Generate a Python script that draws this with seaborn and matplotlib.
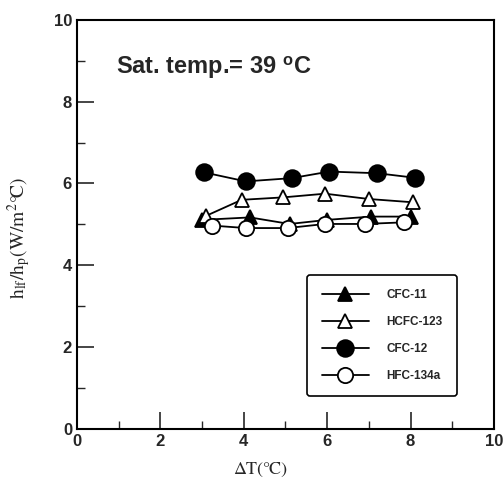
import pandas as pd
import matplotlib.pyplot as plt
import seaborn as sns
from matplotlib.ticker import MultipleLocator

# data
cfc11_x = [3.0, 4.15, 5.1, 6.0, 7.05, 8.0]
cfc11_y = [5.11, 5.17, 5.01, 5.11, 5.19, 5.19]
hcfc123_x = [3.1, 3.95, 4.95, 5.95, 7.0, 8.05]
hcfc123_y = [5.21, 5.6, 5.66, 5.75, 5.62, 5.54]
cfc12_x = [3.05, 4.05, 5.15, 6.05, 7.2, 8.1]
cfc12_y = [6.27, 6.05, 6.13, 6.29, 6.25, 6.14]
hfc134a_x = [3.25, 4.05, 5.05, 5.95, 6.9, 7.85]
hfc134a_y = [4.97, 4.91, 4.91, 5.01, 5.01, 5.05]

sns.set_style("ticks")
plt.rcParams['font.family'] = ['Liberation Sans', 'DejaVu Sans']
plt.rcParams['mathtext.fontset'] = 'stix'

fig = plt.figure(figsize=(5.03, 4.82), dpi=100)
ax = fig.add_axes([0.153, 0.110, 0.829, 0.849])

series = [
    ('CFC-11', cfc11_x, cfc11_y, '^', 'black', 10),
    ('HCFC-123', hcfc123_x, hcfc123_y, '^', 'white', 10),
    ('CFC-12', cfc12_x, cfc12_y, 'o', 'black', 12),
    ('HFC-134a', hfc134a_x, hfc134a_y, 'o', 'white', 11),
]
for name, xs, ys, mk, fc, ms in series:
    d = pd.DataFrame({'x': xs, 'y': ys})
    sns.lineplot(data=d, x='x', y='y', ax=ax, color='black', lw=1.3,
                 marker=mk, markersize=ms, markerfacecolor=fc,
                 markeredgecolor='black', markeredgewidth=1.3, label=name)

ax.set_xlim(0, 10)
ax.set_ylim(0, 10)
ax.xaxis.set_major_locator(MultipleLocator(2))
ax.xaxis.set_minor_locator(MultipleLocator(1))
ax.yaxis.set_major_locator(MultipleLocator(2))
ax.yaxis.set_minor_locator(MultipleLocator(1))
ax.tick_params(which='major', direction='in', length=12, width=1.2, labelsize=12)
ax.tick_params(which='minor', direction='in', length=6, width=1.0)
for lab in ax.get_xticklabels() + ax.get_yticklabels():
    lab.set_fontweight('bold')
for s in ax.spines.values():
    s.set_linewidth(1.5)
    s.set_color('black')

# degree sign + C stands in for the celsius glyph (not in STIX)
ax.set_xlabel('$\\mathit{\\Delta}\\mathrm{T(\u00b0\\!C)}$', fontsize=13)
ax.xaxis.set_label_coords(0.44, -0.078)
ax.set_ylabel('$\\mathrm{h_{lf}/h_p(W/m^2\u00b0\\!C)}$', fontsize=14)
ax.yaxis.set_label_coords(-0.105, 0.467)

ax.text(0.94, 8.83, 'Sat. temp.= 39 $^{\\mathregular{o}}$C', fontsize=17,
        fontweight='bold', va='center', ha='left')

leg = ax.legend(loc='lower right', bbox_to_anchor=(0.911, 0.081), frameon=True,
                fancybox=True, edgecolor='black', handlelength=4.0,
                handletextpad=1.5, labelspacing=1.25, borderpad=1.2,
                borderaxespad=0, prop={'weight': 'bold', 'size': 8.5})
leg.get_frame().set_linewidth(1.2)
leg.get_frame().set_alpha(1)

fig.savefig('out.png', dpi=100)
